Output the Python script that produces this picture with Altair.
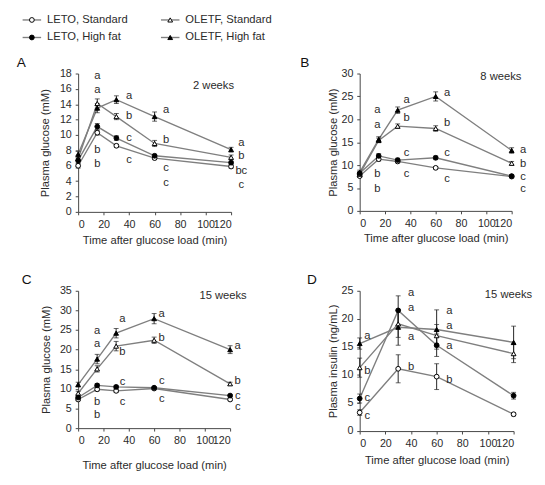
import altair as alt
import pandas as pd

FONT = "Liberation Sans"
LINE_GRAY = "#7f7f7f"
TXT = "#2b2b2b"

# ---------------- data ----------------
series = ["LETO, Standard", "OLETF, Standard", "LETO, High fat", "OLETF, High fat"]
series_shape = ["circle", "triangle-up", "circle", "triangle-up"]
series_fill = ["white", "white", "black", "black"]

times_glu = [0, 15, 30, 60, 120]
times_ins = [0, 30, 60, 120]

# Panel A: 2 weeks, plasma glucose (mM)
a_leto_std = [6.0, 10.3, 8.6, 7.0, 5.9]
a_oletf_std = [6.9, 14.1, 12.4, 8.9, 7.1]
a_leto_hf = [6.7, 11.1, 9.6, 7.3, 6.4]
a_oletf_hf = [7.5, 13.5, 14.6, 12.4, 8.1]
a_err_leto_std = [0.3, 0.3, 0.2, 0.2, 0.2]
a_err_oletf_std = [0.3, 0.6, 0.4, 0.4, 0.3]
a_err_leto_hf = [0.3, 0.4, 0.3, 0.2, 0.2]
a_err_oletf_hf = [0.4, 0.6, 0.5, 0.6, 0.3]
a_let_x = [15, 15, 15, 15, 40, 40, 40, 40, 69, 69, 69, 69, 128, 128, 128, 128]
a_let_y = [17.7, 15.8, 8.0, 6.2, 15.1, 12.4, 9.6, 6.7, 13.3, 9.4, 5.7, 3.8, 9.0, 7.2, 5.3, 3.5]
a_let_t = ["a", "a", "b", "b", "a", "b", "c", "c", "a", "b", "c", "c", "a", "b", "bc", "c"]

# Panel B: 8 weeks
b_leto_std = [7.6, 11.3, 10.8, 9.4, 7.5]
b_oletf_std = [8.0, 15.4, 18.5, 18.0, 10.4]
b_leto_hf = [8.2, 12.0, 11.1, 11.6, 7.6]
b_oletf_hf = [8.4, 15.6, 22.0, 25.0, 13.2]
b_err_leto_std = [0.3, 0.4, 0.3, 0.3, 0.3]
b_err_oletf_std = [0.4, 0.5, 0.5, 0.6, 0.4]
b_err_leto_hf = [0.3, 0.5, 0.4, 0.4, 0.3]
b_err_oletf_hf = [0.5, 0.6, 0.7, 1.0, 0.6]
b_let_x = [14, 14, 14, 14, 37, 37, 37, 37, 69, 69, 69, 69, 129, 129, 129, 129]
b_let_y = [22.0, 18.8, 8.0, 4.8, 24.3, 20.2, 12.6, 8.0, 25.7, 19.1, 12.6, 6.9, 13.3, 10.3, 7.3, 4.8]
b_let_t = ["a", "a", "b", "b", "a", "b", "c", "c", "a", "b", "c", "c", "a", "b", "c", "c"]

# Panel C: 15 weeks
c_leto_std = [7.3, 9.9, 9.5, 10.1, 7.3]
c_oletf_std = [8.9, 15.1, 20.9, 22.4, 11.3]
c_leto_hf = [7.8, 10.9, 10.5, 10.3, 8.3]
c_oletf_hf = [11.1, 17.6, 24.2, 27.9, 20.0]
c_err_leto_std = [0.3, 0.4, 0.4, 0.3, 0.3]
c_err_oletf_std = [0.5, 0.8, 1.2, 0.8, 0.4]
c_err_leto_hf = [0.3, 0.4, 0.4, 0.3, 0.3]
c_err_oletf_hf = [0.6, 1.2, 1.2, 1.3, 1.0]
c_let_x = [15, 15, 15, 15, 35, 35, 35, 35, 66, 66, 66, 66, 126, 126, 126, 126]
c_let_y = [24.8, 21.4, 6.7, 3.3, 27.9, 19.4, 11.7, 6.7, 29.1, 23.0, 12.1, 7.3, 21.0, 11.9, 8.3, 5.3]
c_let_t = ["a", "a", "b", "b", "a", "b", "c", "c", "a", "b", "c", "c", "a", "b", "c", "c"]

# Panel D: 15 weeks, plasma insulin (ng/mL)
d_leto_std = [3.3, 11.1, 9.7, 3.0]
d_oletf_std = [11.3, 19.1, 17.0, 13.8]
d_leto_hf = [5.8, 21.5, 15.3, 6.3]
d_oletf_hf = [15.6, 18.5, 18.1, 15.8]
d_err_leto_std = [0.5, 2.5, 2.3, 0.3]
d_err_oletf_std = [1.7, 2.4, 2.0, 1.6]
d_err_leto_hf = [0.8, 2.6, 2.0, 0.6]
d_err_oletf_hf = [1.0, 3.2, 3.5, 2.9]
d_let_x = [6, 6, 6, 6, 40, 40, 40, 40, 70, 70, 70, 70]
d_let_y = [17.0, 10.7, 5.8, 2.6, 24.6, 22.0, 16.7, 11.4, 21.4, 18.7, 15.2, 9.0]
d_let_t = ["a", "b", "c", "c", "a", "a", "a", "b", "a", "a", "a", "b"]


def make_df(times, vals, errs):
    rows = []
    for s, v, e in zip(series, vals, errs):
        for t, y, err in zip(times, v, e):
            rows.append({"series": s, "time": t, "value": y,
                         "lo": y - err, "hi": y + err})
    return pd.DataFrame(rows)


shape_scale = alt.Scale(domain=series, range=series_shape)
fill_scale = alt.Scale(domain=series, range=series_fill)


def panel(times, vals, errs, lx, ly, lt, ymax, ystep, ytitle, letter, letter_dx,
          period, period_dx, period_dy, width, height, ytitle_pad, xtitle_pad):
    df = make_df(times, vals, errs)
    xs = alt.Scale(domain=[0, 120], nice=False)
    ys = alt.Scale(domain=[0, ymax], nice=False)
    xaxis = alt.Axis(values=[0, 20, 40, 60, 80, 100, 120], title="Time after glucose load (min)",
                     titlePadding=xtitle_pad, labelOverlap=False)
    yaxis = alt.Axis(values=list(range(0, ymax + 1, ystep)), title=ytitle,
                     titlePadding=ytitle_pad, labelOverlap=False)
    x = alt.X("time:Q", scale=xs, axis=xaxis)
    y = alt.Y("value:Q", scale=ys, axis=yaxis)
    ylo = alt.Y("lo:Q", scale=ys, axis=yaxis)
    yhi = alt.Y("hi:Q", scale=ys, axis=yaxis)
    base = alt.Chart(df)
    lines = base.mark_line(color=LINE_GRAY, strokeWidth=1.4).encode(x=x, y=y, detail="series:N")
    bars = base.mark_rule(color="#222", strokeWidth=1).encode(x=x, y=ylo, y2="hi:Q")
    caps_hi = base.mark_tick(color="#222", orient="horizontal", size=5, thickness=1).encode(
        x=x, y=yhi)
    caps_lo = base.mark_tick(color="#222", orient="horizontal", size=5, thickness=1).encode(
        x=x, y=ylo)
    pts = base.mark_point(filled=True, size=24, stroke="black", strokeWidth=1, opacity=1).encode(
        x=x, y=y,
        shape=alt.Shape("series:N", scale=shape_scale, legend=None),
        fill=alt.Fill("series:N", scale=fill_scale, legend=None))
    ldf = pd.DataFrame({"time": lx, "value": ly, "lt": lt})
    letters = alt.Chart(ldf).mark_text(font=FONT, fontSize=11.5, color=TXT, clip=False,
                                       align="center", baseline="middle").encode(
        x=x, y=y, text="lt:N")
    pdf = pd.DataFrame({"p": [period]})
    per = alt.Chart(pdf).mark_text(font=FONT, fontSize=11.5, color=TXT, align="right",
                                   baseline="middle", dx=period_dx, dy=period_dy).encode(
        x=alt.value(width), y=alt.value(0), text="p:N")
    return alt.layer(lines, bars, caps_hi, caps_lo, pts, letters, per).properties(
        width=width, height=height,
        title=alt.TitleParams(letter, anchor="start", frame="group", dx=letter_dx,
                              fontSize=14, fontWeight="normal", font=FONT, color="#111",
                              offset=-2))


A = panel(times_glu, [a_leto_std, a_oletf_std, a_leto_hf, a_oletf_hf],
          [a_err_leto_std, a_err_oletf_std, a_err_leto_hf, a_err_oletf_hf],
          a_let_x, a_let_y, a_let_t, 18, 2, "Plasma glucose (mM)", "A", -63,
          "2 weeks", 3, 13, 157, 142, 9, 5)
B = panel(times_glu, [b_leto_std, b_oletf_std, b_leto_hf, b_oletf_hf],
          [b_err_leto_std, b_err_oletf_std, b_err_leto_hf, b_err_oletf_hf],
          b_let_x, b_let_y, b_let_t, 30, 5, "Plasma glucose (mM)", "B", -61,
          "8 weeks", 10, 4, 156, 141, 3, 4)
C = panel(times_glu, [c_leto_std, c_oletf_std, c_leto_hf, c_oletf_hf],
          [c_err_leto_std, c_err_oletf_std, c_err_leto_hf, c_err_oletf_hf],
          c_let_x, c_let_y, c_let_t, 35, 5, "Plasma glucose (mM)", "C", -58,
          "15 weeks", 17, 5, 156, 141, 8, 14)
D = panel(times_ins, [d_leto_std, d_oletf_std, d_leto_hf, d_oletf_hf],
          [d_err_leto_std, d_err_oletf_std, d_err_leto_hf, d_err_oletf_hf],
          d_let_x, d_let_y, d_let_t, 25, 5, "Plasma insulin (ng/mL)", "D", -54,
          "15 weeks", 19, 4, 158, 144, 3, 6)

# ---------------- legend ----------------
leg = pd.DataFrame({"series": series})
leg["col"] = [i % 2 for i in range(len(series))]
leg["row"] = [i // 2 for i in range(len(series))]
leg["x0"] = -57 + leg["col"] * 142
leg["x1"] = leg["x0"] + 19
leg["xm"] = leg["x0"] + 9.5
leg["xt"] = leg["x0"] + 25
lx_scale = alt.Scale(domain=[0, 300], nice=False, zero=False)
ly_scale = alt.Scale(domain=[0, 1], range=[0, 18], nice=False)
lbase = alt.Chart(leg)
l_line = lbase.mark_rule(color=LINE_GRAY, strokeWidth=1.4).encode(
    x=alt.X("x0:Q", scale=lx_scale, axis=None), x2="x1:Q",
    y=alt.Y("row:Q", scale=ly_scale, axis=None))
l_pts = lbase.mark_point(filled=True, size=24, stroke="black", strokeWidth=1, opacity=1).encode(
    x=alt.X("xm:Q", scale=lx_scale, axis=None), y=alt.Y("row:Q", scale=ly_scale, axis=None),
    shape=alt.Shape("series:N", scale=shape_scale, legend=None),
    fill=alt.Fill("series:N", scale=fill_scale, legend=None))
l_txt = lbase.mark_text(font=FONT, fontSize=11.5, color=TXT, align="left", baseline="middle").encode(
    x=alt.X("xt:Q", scale=lx_scale, axis=None), y=alt.Y("row:Q", scale=ly_scale, axis=None),
    text="series:N")
legend = alt.layer(l_line, l_pts, l_txt).properties(width=300, height=18)

grid = alt.concat(A, B, C, D, columns=2, spacing={"row": 81, "column": 132}, bounds="flush")

chart = alt.vconcat(legend, grid, spacing=37, bounds="flush").properties(
    padding={"left": 9, "top": 0, "right": 5, "bottom": 5}
).configure_view(stroke=None).configure_axis(
    labelFont=FONT, titleFont=FONT, labelFontSize=11, titleFontSize=11.5,
    labelColor=TXT, titleColor=TXT, titleFontWeight="normal", labelOverlap=False,
    domainColor="#444", tickColor="#444", tickSize=3, grid=False, labelPadding=4
).configure_axisX(labelAngle=0)

chart.save("out.html", embed_options={"renderer": "svg", "actions": False})
